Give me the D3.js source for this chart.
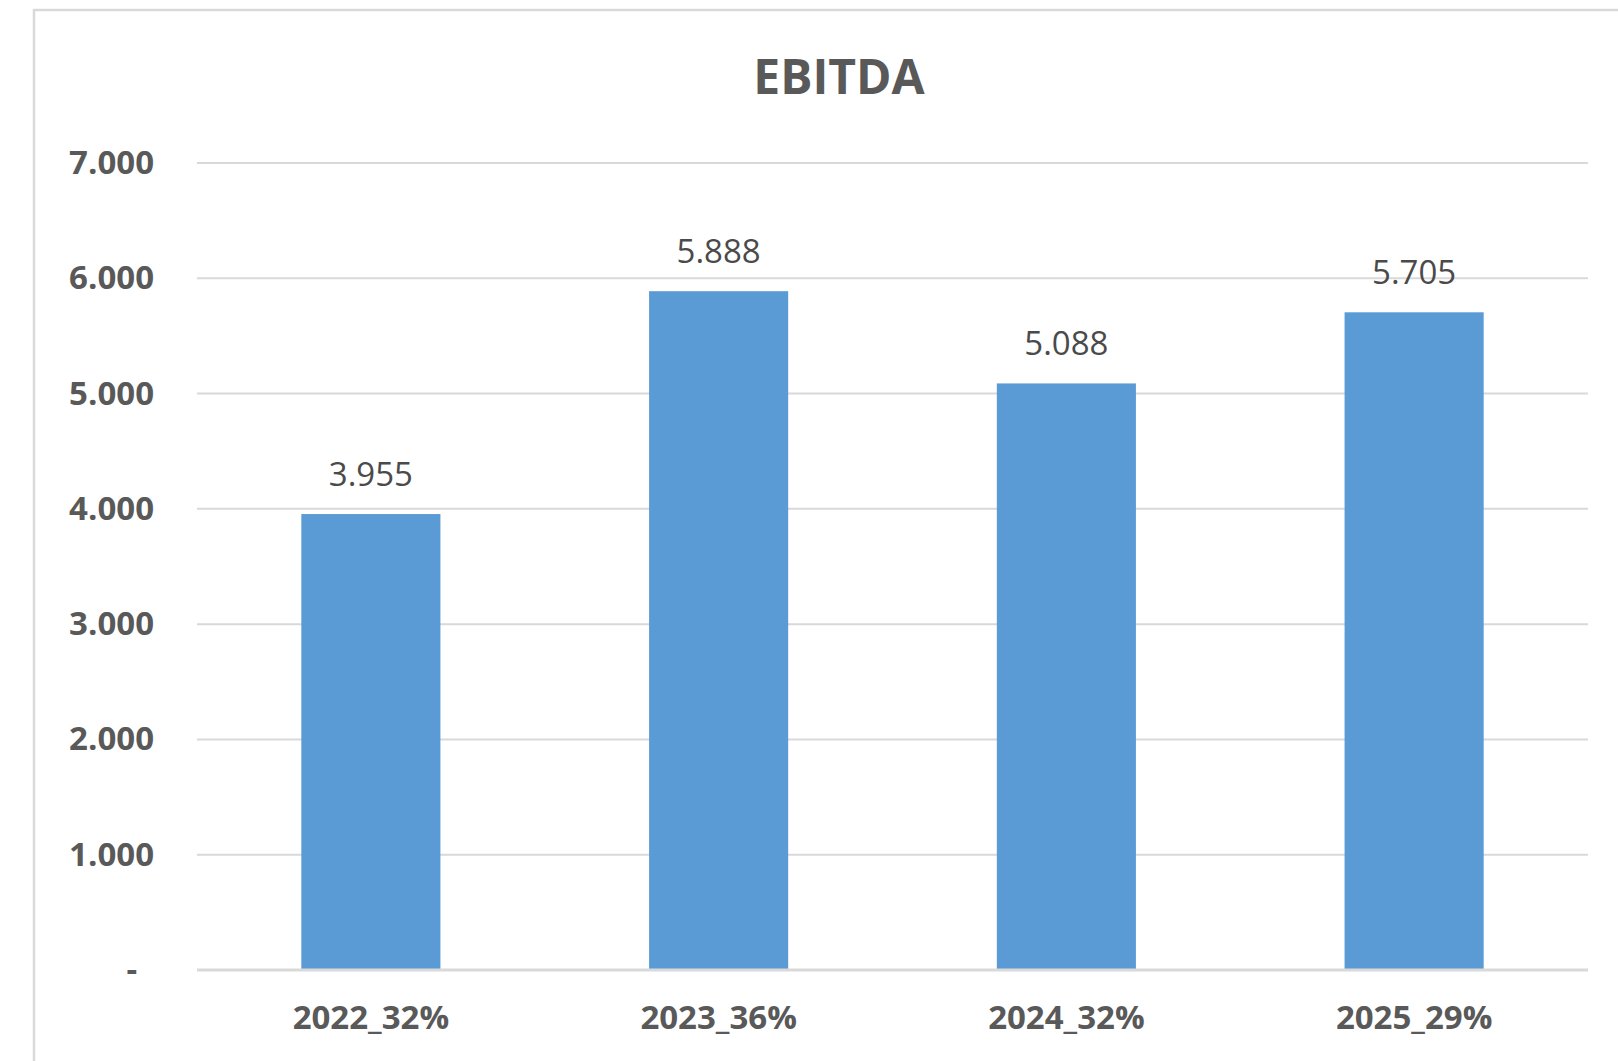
<!DOCTYPE html>
<html>
<head>
<meta charset="utf-8">
<script src="https://cdn.jsdelivr.net/npm/d3@7/dist/d3.min.js"></script>
<style>
  html, body { margin: 0; padding: 0; background: #ffffff; overflow: hidden; }
  svg { display: block; }
</style>
</head>
<body>
<svg id="chart" width="1618" height="1061"></svg>
<script>
const title = "EBITDA";
const categories = ["2022_32%", "2023_36%", "2024_32%", "2025_29%"];
const values = [3955, 5888, 5088, 5705];
const valueLabels = ["3.955", "5.888", "5.088", "5.705"];
const tickValues = [0, 1000, 2000, 3000, 4000, 5000, 6000, 7000];
const tickLabels = ["-", "1.000", "2.000", "3.000", "4.000", "5.000", "6.000", "7.000"];

const W = 1618, H = 1061;
const margin = { left: 197, right: 30, top: 163, bottom: 91 };
const svg = d3.select("#chart");
const font = "'Open Sans', 'Liberation Sans', sans-serif";

// outer frame (extends past viewport on right/bottom)
svg.append("rect")
  .attr("x", 34).attr("y", 10)
  .attr("width", W + 20).attr("height", H + 20)
  .attr("fill", "#ffffff")
  .attr("stroke", "#d9d9d9").attr("stroke-width", 2.5);

const x = d3.scaleBand()
  .domain(categories)
  .range([margin.left, W - margin.right])
  .paddingInner(0.6).paddingOuter(0.3);

const y = d3.scaleLinear()
  .domain([0, 7000])
  .range([H - margin.bottom, margin.top]);

// gridlines
svg.append("g").selectAll("line")
  .data(tickValues.filter(v => v > 0))
  .join("line")
  .attr("x1", margin.left).attr("x2", W - margin.right)
  .attr("y1", d => y(d)).attr("y2", d => y(d))
  .attr("stroke", "#d9d9d9").attr("stroke-width", 2);

// y axis labels
const yAxis = d3.axisLeft(y)
  .tickValues(tickValues)
  .tickSize(0)
  .tickPadding(43)
  .tickFormat((d, i) => tickLabels[i]);
const gy = svg.append("g").attr("transform", `translate(${margin.left},0)`).call(yAxis);
gy.select(".domain").remove();
gy.selectAll("text")
  .attr("font-family", font).attr("font-size", 33).attr("font-weight", "bold")
  .attr("fill", "#595959")
  .attr("dx", (d) => d === 0 ? -17 : 0);

// bars
svg.append("g").selectAll("rect")
  .data(values)
  .join("rect")
  .attr("x", (d, i) => x(categories[i]))
  .attr("width", x.bandwidth())
  .attr("y", d => y(d))
  .attr("height", d => y(0) - y(d))
  .attr("fill", "#5b9bd5");

// x axis baseline
svg.append("line")
  .attr("x1", margin.left).attr("x2", W - margin.right)
  .attr("y1", y(0)).attr("y2", y(0))
  .attr("stroke", "#d9d9d9").attr("stroke-width", 3);

// x axis labels
const xAxis = d3.axisBottom(x).tickSize(0).tickPadding(36);
const gx = svg.append("g").attr("transform", `translate(0,${y(0)})`).call(xAxis);
gx.select(".domain").remove();
gx.selectAll("text")
  .attr("font-family", font).attr("font-size", 33).attr("font-weight", "bold")
  .attr("fill", "#595959");

// data labels
svg.append("g").selectAll("text")
  .data(values)
  .join("text")
  .attr("x", (d, i) => x(categories[i]) + x.bandwidth() / 2)
  .attr("y", d => y(d) - 28)
  .attr("text-anchor", "middle")
  .attr("font-family", font).attr("font-size", 33)
  .attr("fill", "#4a4a4a")
  .text((d, i) => valueLabels[i]);

// title
svg.append("text")
  .attr("x", 839).attr("y", 94)
  .attr("text-anchor", "middle")
  .attr("font-family", font).attr("font-size", 48).attr("font-weight", "bold")
  .attr("fill", "#595959")
  .text(title);
</script>
</body>
</html>
